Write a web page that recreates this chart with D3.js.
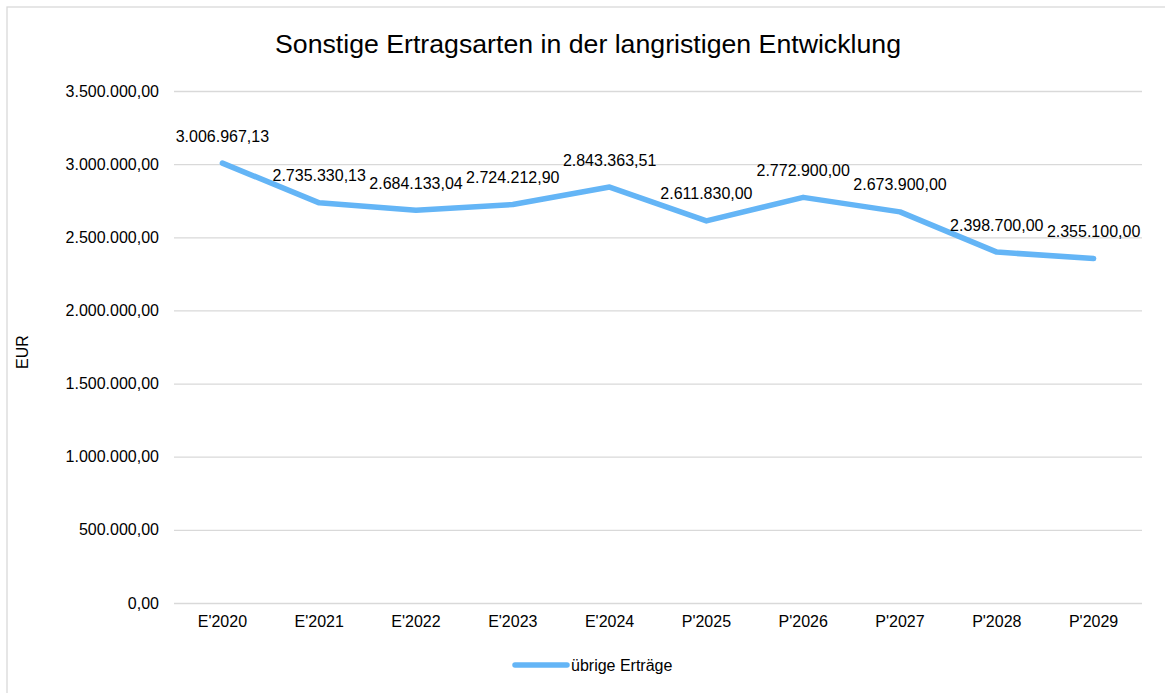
<!DOCTYPE html>
<html><head><meta charset="utf-8">
<script src="https://cdn.jsdelivr.net/npm/d3@7"></script>
<style>body{margin:0;background:#fff}svg{display:block;font-family:"Liberation Sans",Arial,sans-serif}</style>
</head><body><svg id="c" width="1165" height="693"></svg>
<script>
const title = "Sonstige Ertragsarten in der langristigen Entwicklung";
const categories = ["E'2020","E'2021","E'2022","E'2023","E'2024","P'2025","P'2026","P'2027","P'2028","P'2029"];
const values = [3006967.13, 2735330.13, 2684133.04, 2724212.90, 2843363.51, 2611830.00, 2772900.00, 2673900.00, 2398700.00, 2355100.00];
const yTicks = [0, 500000, 1000000, 1500000, 2000000, 2500000, 3000000, 3500000];
const seriesName = "übrige Erträge";
const yAxisTitle = "EUR";

const de = d3.formatLocale({decimal: ",", thousands: ".", grouping: [3], currency: ["", " €"]});
const fmt = de.format(",.2f");

const svg = d3.select("#c");
const W = 1165, H = 693;
const m = {l: 174, r: 1142, t: 91, b: 603};
const color = "#64b5f6";

svg.append("rect").attr("x", 7).attr("y", 7).attr("width", W).attr("height", H)
  .attr("fill", "#fff").attr("stroke", "#d9d9d9").attr("stroke-width", 1.3);

const x = d3.scaleBand().domain(categories).range([m.l, m.r]);
const y = d3.scaleLinear().domain([0, 3500000]).range([m.b, m.t]);

const yAxis = d3.axisLeft(y).tickValues(yTicks).tickFormat(fmt).tickSize(-(m.r - m.l)).tickPadding(15);
const gy = svg.append("g").attr("transform", `translate(${m.l},0)`).call(yAxis);
gy.select(".domain").remove();
gy.selectAll(".tick line").attr("stroke", "#d9d9d9").attr("stroke-width", 1.3);
gy.selectAll(".tick text").attr("font-size", 16).attr("fill", "#000").attr("font-family", "Liberation Sans, Arial, sans-serif");

const xAxis = d3.axisBottom(x).tickSize(0).tickPadding(13);
const gx = svg.append("g").attr("transform", `translate(0,${m.b})`).call(xAxis);
gx.select(".domain").remove();
gx.selectAll(".tick text").attr("font-size", 16).attr("fill", "#000").attr("font-family", "Liberation Sans, Arial, sans-serif");

const cx = d => x(d) + x.bandwidth() / 2;
const line = d3.line().x((d, i) => cx(categories[i])).y(d => y(d));
svg.append("path").datum(values).attr("d", line).attr("fill", "none")
  .attr("stroke", color).attr("stroke-width", 5.5).attr("stroke-linejoin", "round").attr("stroke-linecap", "round");

svg.append("g").selectAll("text").data(values).join("text")
  .attr("x", (d, i) => cx(categories[i])).attr("y", d => y(d) - 27)
  .attr("text-anchor", "middle").attr("dominant-baseline", "central")
  .attr("font-size", 16).attr("fill", "#000").text(d => fmt(d));

svg.append("text").attr("x", 588).attr("y", 44).attr("text-anchor", "middle")
  .attr("dominant-baseline", "central").attr("font-size", 26.7).attr("fill", "#000").text(title);

svg.append("text").attr("transform", `translate(22,352) rotate(-90)`).attr("text-anchor", "middle")
  .attr("dominant-baseline", "central").attr("font-size", 16).attr("fill", "#000").text(yAxisTitle);

const lg = svg.append("g");
lg.append("line").attr("x1", 515).attr("x2", 567).attr("y1", 665).attr("y2", 665)
  .attr("stroke", color).attr("stroke-width", 5.5).attr("stroke-linecap", "round");
lg.append("text").attr("x", 571).attr("y", 665).attr("dominant-baseline", "central")
  .attr("font-size", 16).attr("fill", "#000").text(seriesName);
</script></body></html>
